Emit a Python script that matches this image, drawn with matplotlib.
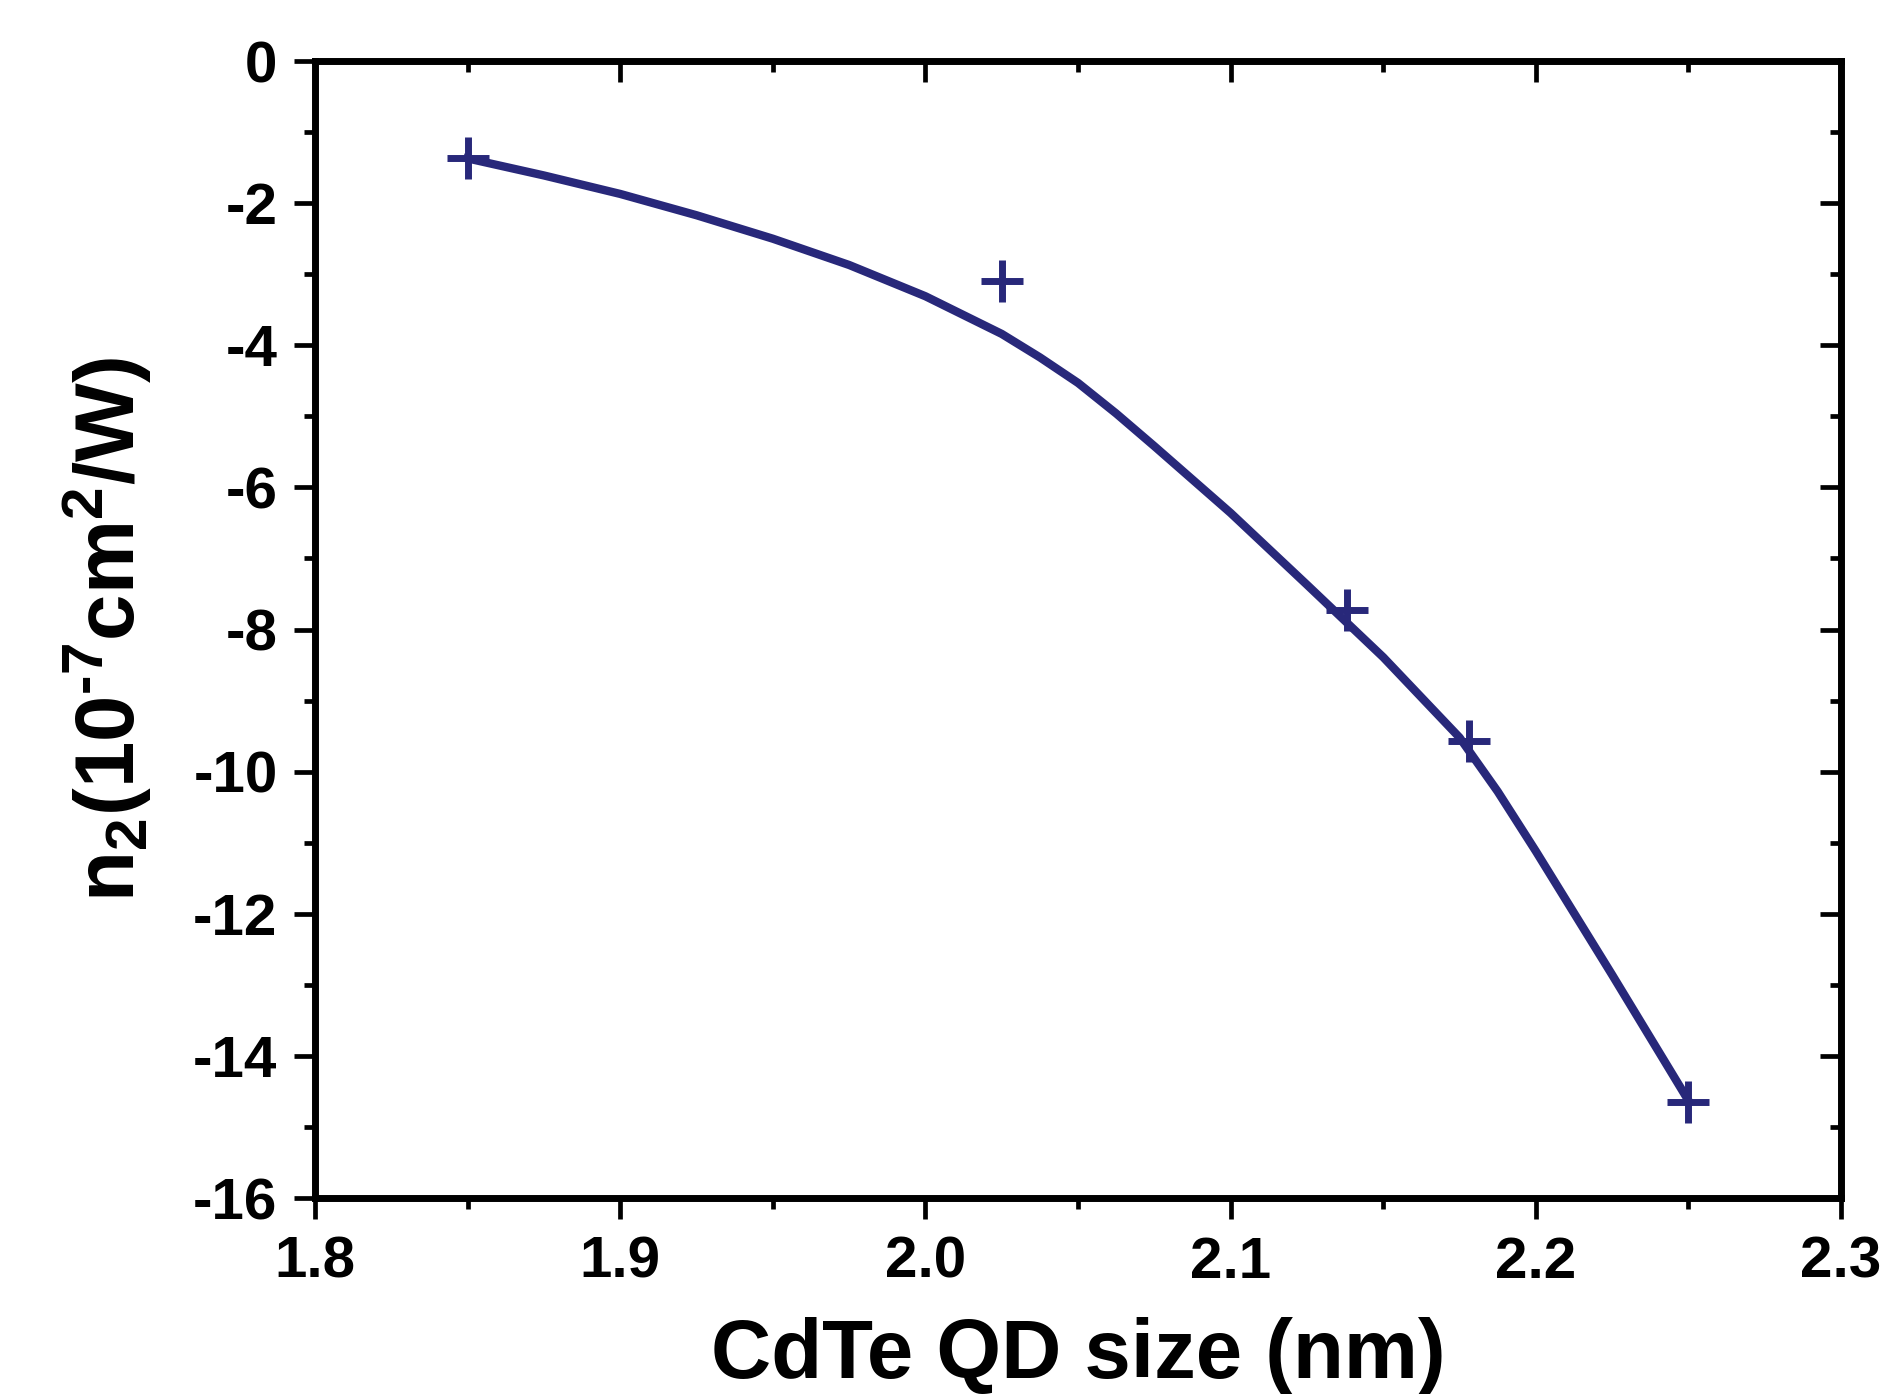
import matplotlib
matplotlib.use("Agg")
import matplotlib.pyplot as plt
from matplotlib.ticker import MultipleLocator, FormatStrFormatter
from matplotlib import lines as mlines

plt.rcParams['font.family'] = ['Liberation Sans', 'DejaVu Sans']
plt.rcParams['font.weight'] = 'bold'
plt.rcParams['axes.unicode_minus'] = False
plt.rcParams['mathtext.fontset'] = 'custom'
plt.rcParams['mathtext.rm'] = 'Liberation Sans:bold'
plt.rcParams['mathtext.it'] = 'Liberation Sans:bold'
plt.rcParams['mathtext.bf'] = 'Liberation Sans:bold'

# ── data ─────────────────────────────────────────────────────────────────────
size_pts = [1.85, 2.025, 2.138, 2.178, 2.25]
n2_pts   = [-1.37, -3.10, -7.72, -9.57, -14.65]

# smooth fit curve as drawn in the figure
size_fit = [1.85, 1.875, 1.90, 1.925, 1.95, 1.975, 2.0, 2.025, 2.0375, 2.05,
            2.0625, 2.075, 2.1, 2.125, 2.15, 2.175, 2.1875, 2.2, 2.225, 2.25]
n2_fit   = [-1.37, -1.61, -1.87, -2.17, -2.50, -2.87, -3.31, -3.84, -4.17, -4.53,
            -4.96, -5.42, -6.36, -7.37, -8.39, -9.52, -10.28, -11.12, -12.86, -14.63]

navy = '#28287a'

fig = plt.figure(figsize=(18.91, 13.94), dpi=100)
ax = fig.add_axes([0.1666, 0.1406, 0.807, 0.8156])

ax.plot(size_fit, n2_fit, color=navy, linewidth=6, solid_joinstyle='round')
ax.plot(size_pts, n2_pts, linestyle='none', marker='+', color=navy,
        markersize=30, markeredgewidth=5)

ax.set_xlim(1.8, 2.3)
ax.set_ylim(-16, 0)
ax.xaxis.set_major_locator(MultipleLocator(0.1))
ax.xaxis.set_minor_locator(MultipleLocator(0.05))
ax.yaxis.set_major_locator(MultipleLocator(2))
ax.yaxis.set_minor_locator(MultipleLocator(1))
ax.xaxis.set_major_formatter(FormatStrFormatter('%.1f'))

for s in ax.spines.values():
    s.set_linewidth(5)

ax.tick_params(which='both', top=True, right=True, width=3.4, direction='out')
ax.tick_params(which='major', length=15)
ax.tick_params(which='minor', length=8)
ax.tick_params(axis='both', labelsize=42, pad=12)

# top / right ticks point inward
for t in ax.xaxis.get_major_ticks() + ax.xaxis.get_minor_ticks():
    t.tick2line.set_marker(mlines.TICKDOWN)
for t in ax.yaxis.get_major_ticks() + ax.yaxis.get_minor_ticks():
    t.tick2line.set_marker(mlines.TICKLEFT)

ax.set_xlabel('CdTe QD size (nm)', fontsize=60, fontweight='bold', labelpad=20)
ax.set_ylabel('n$_2$(10$^{\u20107}$cm$^2$/W)', fontsize=60, fontweight='bold',
              labelpad=28)

plt.savefig('out.png', dpi=100)
